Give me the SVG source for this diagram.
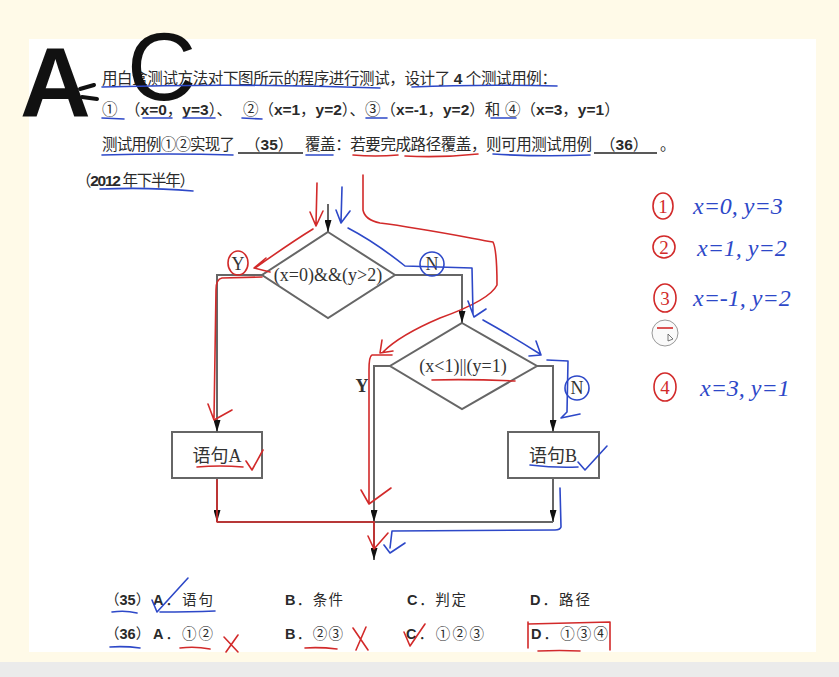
<svg xmlns="http://www.w3.org/2000/svg" width="839" height="677" viewBox="0 0 839 677">
<defs>
<marker id="arr" viewBox="0 0 12 7" markerWidth="12" markerHeight="7" refX="12" refY="3.5" orient="auto" markerUnits="userSpaceOnUse">
<path d="M0,0 L12,3.5 L0,7 z" fill="#111"/>
</marker>
<style>
.t{font-family:"Liberation Sans","Noto Sans CJK SC",sans-serif;font-size:15.5px;fill:#2a2a2a}
.o{font-size:14.5px}
.b{font-weight:bold}
.s{font-family:"Liberation Serif","Noto Sans CJK SC",serif;font-size:18px;fill:#333}
.shape{fill:none;stroke:#666;stroke-width:2}
.con{fill:none;stroke:#666;stroke-width:2}
.r{fill:none;stroke:#d22a2a;stroke-width:1.6;stroke-linecap:round;stroke-linejoin:round}
.u{fill:none;stroke:#2d48c8;stroke-width:1.6;stroke-linecap:round;stroke-linejoin:round}
.hw{font-family:"Liberation Serif",serif;font-style:italic;font-size:24px;fill:#2d48c8}
.rn{font-family:"Liberation Serif",serif;font-size:19px;fill:#d22a2a;text-anchor:middle}
</style>
</defs>
<rect width="839" height="677" fill="#fffae8"/>
<rect x="0" y="662" width="839" height="15" fill="#ebebeb"/>
<rect x="29" y="39" width="787" height="613" fill="#ffffff"/>

<!-- question text -->
<g id="question">
<text class="t" x="102" y="84" textLength="455" lengthAdjust="spacing">用白盒测试方法对下图所示的程序进行测试，设计了 <tspan class="b">4</tspan> 个测试用例：</text>
<text class="t" x="102" y="115">①</text>
<text class="t" x="125" y="115">（<tspan class="b">x=0</tspan>，<tspan class="b">y=3</tspan>）、</text>
<text class="t" x="243" y="115" textLength="122" lengthAdjust="spacing">②（<tspan class="b">x=1</tspan>，<tspan class="b">y=2</tspan>）、</text>
<text class="t" x="365" y="115">③（<tspan class="b">x=-1</tspan>，<tspan class="b">y=2</tspan>）和</text>
<text class="t" x="505" y="115">④（<tspan class="b">x=3</tspan>，<tspan class="b">y=1</tspan>）</text>
<text class="t" x="102" y="150" textLength="133" lengthAdjust="spacing">测试用例①②实现了</text>
<text class="t" x="245" y="150">（<tspan class="b">35</tspan>）</text>
<text class="t" x="305" y="150" textLength="287" lengthAdjust="spacing">覆盖：若要完成路径覆盖，则可用测试用例</text>
<text class="t" x="600" y="150">（<tspan class="b">36</tspan>）</text>
<text class="t" x="660" y="150">。</text>
<line x1="238" y1="153" x2="303" y2="153" stroke="#222" stroke-width="1.3"/>
<line x1="594" y1="153" x2="657" y2="153" stroke="#222" stroke-width="1.3"/>
<text class="t" x="76" y="186" textLength="119" lengthAdjust="spacing">（<tspan class="b">2012</tspan> 年下半年）</text>
</g>

<!-- flowchart nodes -->
<g id="decision1">
<polygon class="shape" points="328,232 395,275 328,318 262,275"/>
<text class="s" x="328" y="281" text-anchor="middle">(x=0)&amp;&amp;(y&gt;2)</text>
</g>
<g id="decision2">
<polygon class="shape" points="462,323 537,366 462,409 390,366"/>
<text class="s" x="463" y="372" text-anchor="middle">(x&lt;1)||(y=1)</text>
</g>
<g id="stmtA">
<rect class="shape" x="172" y="432" width="90" height="46" fill="#fff"/>
<text class="s" x="217" y="462" text-anchor="middle" font-size="17">语句A</text>
</g>
<g id="stmtB">
<rect class="shape" x="508" y="432" width="91" height="46" fill="#fff"/>
<text class="s" x="553" y="462" text-anchor="middle" font-size="17">语句B</text>
</g>

<!-- connectors -->
<g id="connectors">
<path class="con" d="M328,204 V232" marker-end="url(#arr)"/>
<path class="con" d="M262,275 H217 V432" marker-end="url(#arr)"/>
<path class="con" d="M395,275 H462 V323" marker-end="url(#arr)"/>
<path class="con" d="M390,366 H374 V522" marker-end="url(#arr)"/>
<path class="con" d="M537,366 H553 V432" marker-end="url(#arr)"/>
<path class="con" d="M217,478 V522" marker-end="url(#arr)"/>
<path class="con" d="M553,478 V522" marker-end="url(#arr)"/>
<path class="con" d="M217,522 H553"/>
<path class="con" d="M374,522 V560" marker-end="url(#arr)"/>
<text class="s" x="238" y="270" text-anchor="middle" font-size="16">Y</text>
<text class="s" x="432" y="270" text-anchor="middle" font-size="16">N</text>
<text class="s b" x="362" y="392" text-anchor="middle" font-size="16">Y</text>
<text class="s" x="577" y="394" text-anchor="middle" font-size="16">N</text>
</g>

<!-- answer options -->
<g id="options">
<text class="t o" x="105" y="605">（<tspan class="b">35</tspan>）</text>
<text class="t o" x="153" y="605" textLength="60" lengthAdjust="spacing"><tspan class="b">A</tspan>．语句</text>
<text class="t o" x="285" y="605" textLength="58" lengthAdjust="spacing"><tspan class="b">B</tspan>．条件</text>
<text class="t o" x="407" y="605" textLength="59" lengthAdjust="spacing"><tspan class="b">C</tspan>．判定</text>
<text class="t o" x="530" y="605" textLength="60" lengthAdjust="spacing"><tspan class="b">D</tspan>．路径</text>
<text class="t o" x="105" y="639">（<tspan class="b">36</tspan>）</text>
<text class="t o" x="153" y="639" textLength="60" lengthAdjust="spacing"><tspan class="b">A</tspan>．①②</text>
<text class="t o" x="285" y="639" textLength="58" lengthAdjust="spacing"><tspan class="b">B</tspan>．②③</text>
<text class="t o" x="406" y="639" textLength="78" lengthAdjust="spacing"><tspan class="b">C</tspan>．①②③</text>
<text class="t o" x="531" y="639" textLength="77" lengthAdjust="spacing"><tspan class="b">D</tspan>．①③④</text>
</g>

<!-- black handwriting -->
<g id="answer-mark">
<text x="20" y="116" font-family="Liberation Sans, sans-serif" font-weight="bold" font-size="98" fill="#111">A</text>
<path d="M80,89 L94,85 M82,97 L97,99" fill="none" stroke="#111" stroke-width="4" stroke-linecap="round"/>
<text x="127" y="100" font-family="Liberation Sans, sans-serif" font-size="96" fill="#111">C</text>
</g>

<!-- red annotations -->
<g id="red-marks" class="r">
<path d="M317,183 L316,224 M310,212 L316,226 L323,211"/>
<path d="M313,229 C295,240 272,256 255,268 M266,258 L254,268 L270,272"/>
<ellipse cx="238" cy="263" rx="10" ry="12"/>
<path d="M262,277 L222,278 Q216,279 216,290 L214,418 M208,404 L214,420 L232,410"/>
<path d="M197,467 Q220,465 243,467 M246,461 L252,470 L263,450"/>
<path d="M217,480 L217,522 L374,522"/>
<path d="M374,522 L374,548 M368,536 L374,549 L388,533"/>
<path d="M363,175 L363,210 Q365,220 380,223 C420,228 470,238 493,242 Q497,250 497,285 Q490,300 440,318 Q400,335 383,352 M382,340 L380,353 L393,351"/>
<path d="M392,355 L372,355 Q369,356 369,370 L369,503 M361,490 L369,504 L391,488"/>
<path d="M432,380 Q470,379 515,381"/>
<path d="M353,155 Q375,157 398,155 M405,156 Q440,158 478,154"/>
<path d="M180,648 Q195,646 210,649 M224,637 L238,652 M238,635 L226,652"/>
<path d="M305,648 Q320,647 337,649 M353,628 L368,650 M366,627 L356,650"/>
<path d="M404,632 L410,646 L425,624"/>
<path d="M528,622 L528,648 M528,624 L610,622 L610,650 M538,651 Q560,650 580,651"/>
<ellipse cx="663" cy="206" rx="10" ry="13"/>
<ellipse cx="664" cy="247" rx="11" ry="11"/>
<ellipse cx="665" cy="298" rx="11" ry="14"/>
<ellipse cx="665" cy="387" rx="11" ry="14"/>
</g>
<g id="red-numbers">
<text class="rn" x="663" y="213">1</text>
<text class="rn" x="664" y="254">2</text>
<text class="rn" x="665" y="305">3</text>
<text class="rn" x="665" y="394">4</text>
</g>

<!-- cursor -->
<g id="cursor">
<circle cx="665" cy="333" r="13" fill="#fafafa" stroke="#999" stroke-width="1"/>
<line x1="657" y1="328" x2="673" y2="328" stroke="#d22a2a" stroke-width="1.6"/>
<path d="M668,334 L668,341 L673,339 z" fill="none" stroke="#555" stroke-width="0.8"/>
</g>

<!-- blue annotations -->
<g id="blue-marks" class="u">
<path d="M342,187 L341,222 M336,210 L341,223 L350,211"/>
<path d="M348,228 Q375,242 405,266 L472,268 L473,314 M468,301 L474,317 L486,309"/>
<ellipse cx="432" cy="264" rx="12" ry="12"/>
<path d="M483,320 Q510,335 540,354 M536,341 L541,355 L529,356"/>
<path d="M547,360 L568,361 L567,412 L561,418 L580,414"/>
<ellipse cx="577" cy="388" rx="12" ry="12"/>
<path d="M530,465 Q555,468 578,467 M578,462 L585,470 L607,446"/>
<path d="M560,488 L561,527 Q560,530 555,530 L392,531 L390,548 M384,545 L390,553 L405,543"/>
<path d="M102,87 Q240,83 380,88 M412,87 Q480,84 557,86"/>
<path d="M102,118 L124,119 M143,118 L172,118 M183,118 L215,118 M242,118 L262,119 M366,118 L387,118 M491,118 L516,118"/>
<path d="M102,155 Q170,153 233,155 M306,155 L333,155 M493,154 Q540,157 590,155"/>
<path d="M100,189 Q150,187 193,191"/>
<path d="M112,612 Q125,610 137,613 M152,600 L157,612 L188,578 M160,612 Q190,612 215,611 M110,647 Q125,646 140,648"/>
</g>
<g id="blue-notes">
<text class="hw" x="693" y="214">x=0, y=3</text>
<text class="hw" x="697" y="256">x=1, y=2</text>
<text class="hw" x="693" y="306">x=-1, y=2</text>
<text class="hw" x="700" y="396">x=3, y=1</text>
</g>
</svg>
